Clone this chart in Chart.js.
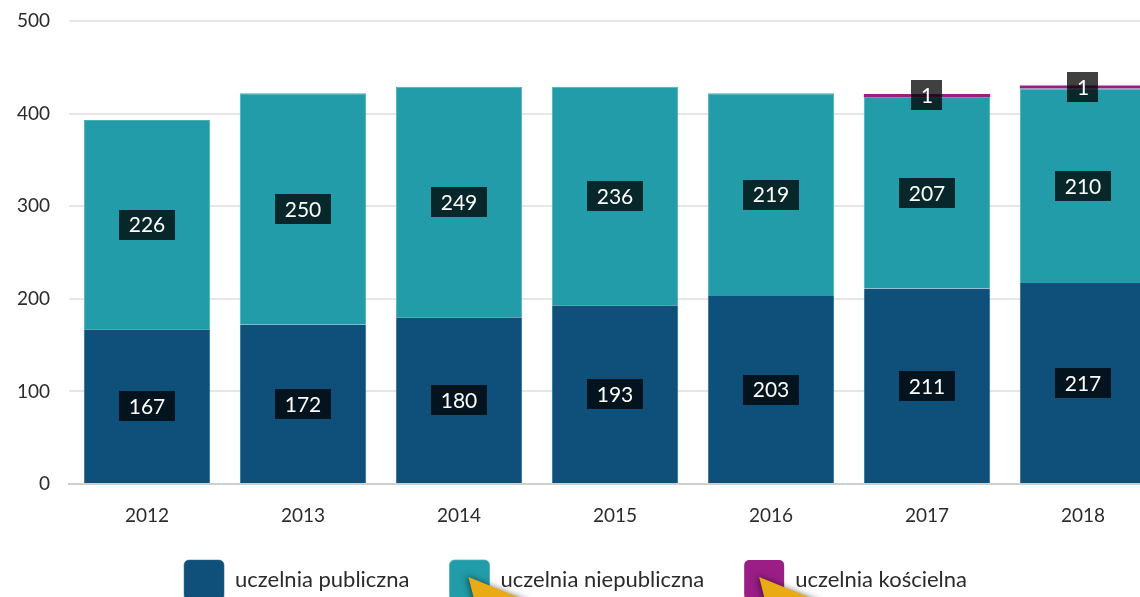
<!DOCTYPE html>
<html lang="pl">
<head>
<meta charset="utf-8">
<title>Uczelnie według typu, 2012–2018</title>
<script src="https://cdn.jsdelivr.net/npm/chart.js@4.4.1/dist/chart.umd.min.js"></script>
<style>
  html, body { margin: 0; padding: 0; background: #ffffff; overflow: hidden; }
  #wrap { position: relative; width: 1161px; height: 618px; }
</style>
</head>
<body>
<div id="wrap"><canvas id="chart"></canvas></div>
<script>
// Liczba uczelni według typu
const years = ['2012', '2013', '2014', '2015', '2016', '2017', '2018'];
const publiczne = [167, 172, 180, 193, 203, 211, 217];
const niepubliczne = [226, 250, 249, 236, 219, 207, 210];
const koscielne = [null, null, null, null, null, 1, 1];
const seriesNames = ['uczelnia publiczna', 'uczelnia niepubliczna', 'uczelnia kościelna'];
const yTicks = [0, 100, 200, 300, 400, 500];

const FONT = 'Lato, "Source Sans Pro", "Noto Sans", sans-serif';

// dark boxes with the value in the middle of every segment
const valueBoxes = {
  id: 'valueBoxes',
  afterDatasetsDraw(chart) {
    const ctx = chart.ctx;
    ctx.save();
    ctx.font = '21px ' + FONT;
    ctx.textAlign = 'center';
    ctx.textBaseline = 'middle';
    chart.data.datasets.forEach((ds, di) => {
      const meta = chart.getDatasetMeta(di);
      if (meta.hidden) return;
      meta.data.forEach((bar, i) => {
        const v = ds.data[i];
        if (v === null || v === undefined) return;
        const txt = String(v);
        const cx = bar.x;
        const cy = (bar.y + bar.base) / 2;
        const w = Math.max(ctx.measureText(txt).width + 19, 30);
        const h = 30;
        ctx.fillStyle = 'rgba(0,0,0,0.75)';
        ctx.fillRect(Math.round(cx - w / 2), Math.round(cy - h / 2), Math.round(w), h);
        ctx.fillStyle = '#ffffff';
        ctx.fillText(txt, cx, cy + 1);
      });
    });
    ctx.restore();
  }
};

// yellow pointer arrows next to the 2nd and 3rd legend entries
const legendPointers = {
  id: 'legendPointers',
  afterDraw(chart) {
    const boxes = chart.legend && chart.legend.legendHitBoxes;
    if (!boxes) return;
    const ctx = chart.ctx;
    [1, 2].forEach((k, j) => {
      const hb = boxes[k];
      if (!hb) return;
      const tx = hb.left + (j === 0 ? 19 : 15);
      const ty = hb.top + 17;
      ctx.save();
      ctx.shadowColor = 'rgba(0,0,0,0.5)';
      ctx.shadowBlur = 6;
      ctx.shadowOffsetX = -2;
      ctx.shadowOffsetY = -1;
      ctx.fillStyle = '#e9aa14';
      ctx.beginPath();
      ctx.moveTo(tx, ty);
      ctx.lineTo(tx + 64, ty + 26);
      ctx.lineTo(tx + 9, ty + 36);
      ctx.closePath();
      ctx.fill();
      ctx.restore();
    });
  }
};

// the legend row sits a little closer to the year labels
const shiftLegend = {
  id: 'shiftLegend',
  afterLayout(chart) {
    const lg = chart.legend;
    lg.top -= 8;
    lg.bottom -= 8;
    lg.left -= 5;
    lg.right -= 5;
  }
};

const barShape = { borderSkipped: false, categoryPercentage: 1, barPercentage: 0.81 };

new Chart(document.getElementById('chart'), {
  type: 'bar',
  data: {
    labels: years,
    datasets: [
      Object.assign({ label: seriesNames[0], data: publiczne, backgroundColor: '#0e5079',
        borderColor: '#2f6890', borderWidth: { left: 1, right: 1, top: 0, bottom: 0 } }, barShape),
      Object.assign({ label: seriesNames[1], data: niepubliczne, backgroundColor: '#219ca8',
        borderColor: '#4aaeb8', borderWidth: { left: 1, right: 1, top: 1, bottom: 0 } }, barShape),
      Object.assign({ label: seriesNames[2], data: koscielne, backgroundColor: '#9a1e86',
        borderWidth: 0, minBarLength: 3 }, barShape)
    ]
  },
  options: {
    responsive: true,
    maintainAspectRatio: false,
    animation: false,
    layout: { padding: { top: 21, left: 0, right: 0, bottom: 0 } },
    scales: {
      x: {
        stacked: true,
        grid: { display: false },
        border: { display: true, color: '#cfcfcf', width: 2 },
        ticks: { color: '#2b2b2b', font: { family: FONT, size: 19 }, padding: 12 },
        afterFit(scale) { scale.height = 44; }
      },
      y: {
        stacked: true,
        min: 0,
        max: 500,
        afterBuildTicks(scale) { scale.ticks = yTicks.map(v => ({ value: v })); },
        grid: { color: '#e6e6e6', lineWidth: 2, drawTicks: false },
        border: { display: false },
        ticks: { color: '#2b2b2b', font: { family: FONT, size: 19 }, padding: 19 },
        afterFit(scale) {
          scale.width = 69;
          scale.paddingTop = 0;
          scale.paddingBottom = 0;
        }
      }
    },
    plugins: {
      legend: {
        position: 'bottom',
        labels: {
          boxWidth: 40,
          boxHeight: 40,
          padding: 40,
          useBorderRadius: true,
          borderRadius: 5,
          color: '#2b2b2b',
          font: { family: FONT, size: 22 }
        }
      },
      tooltip: { enabled: false }
    }
  },
  plugins: [valueBoxes, legendPointers, shiftLegend]
});
</script>
</body>
</html>
